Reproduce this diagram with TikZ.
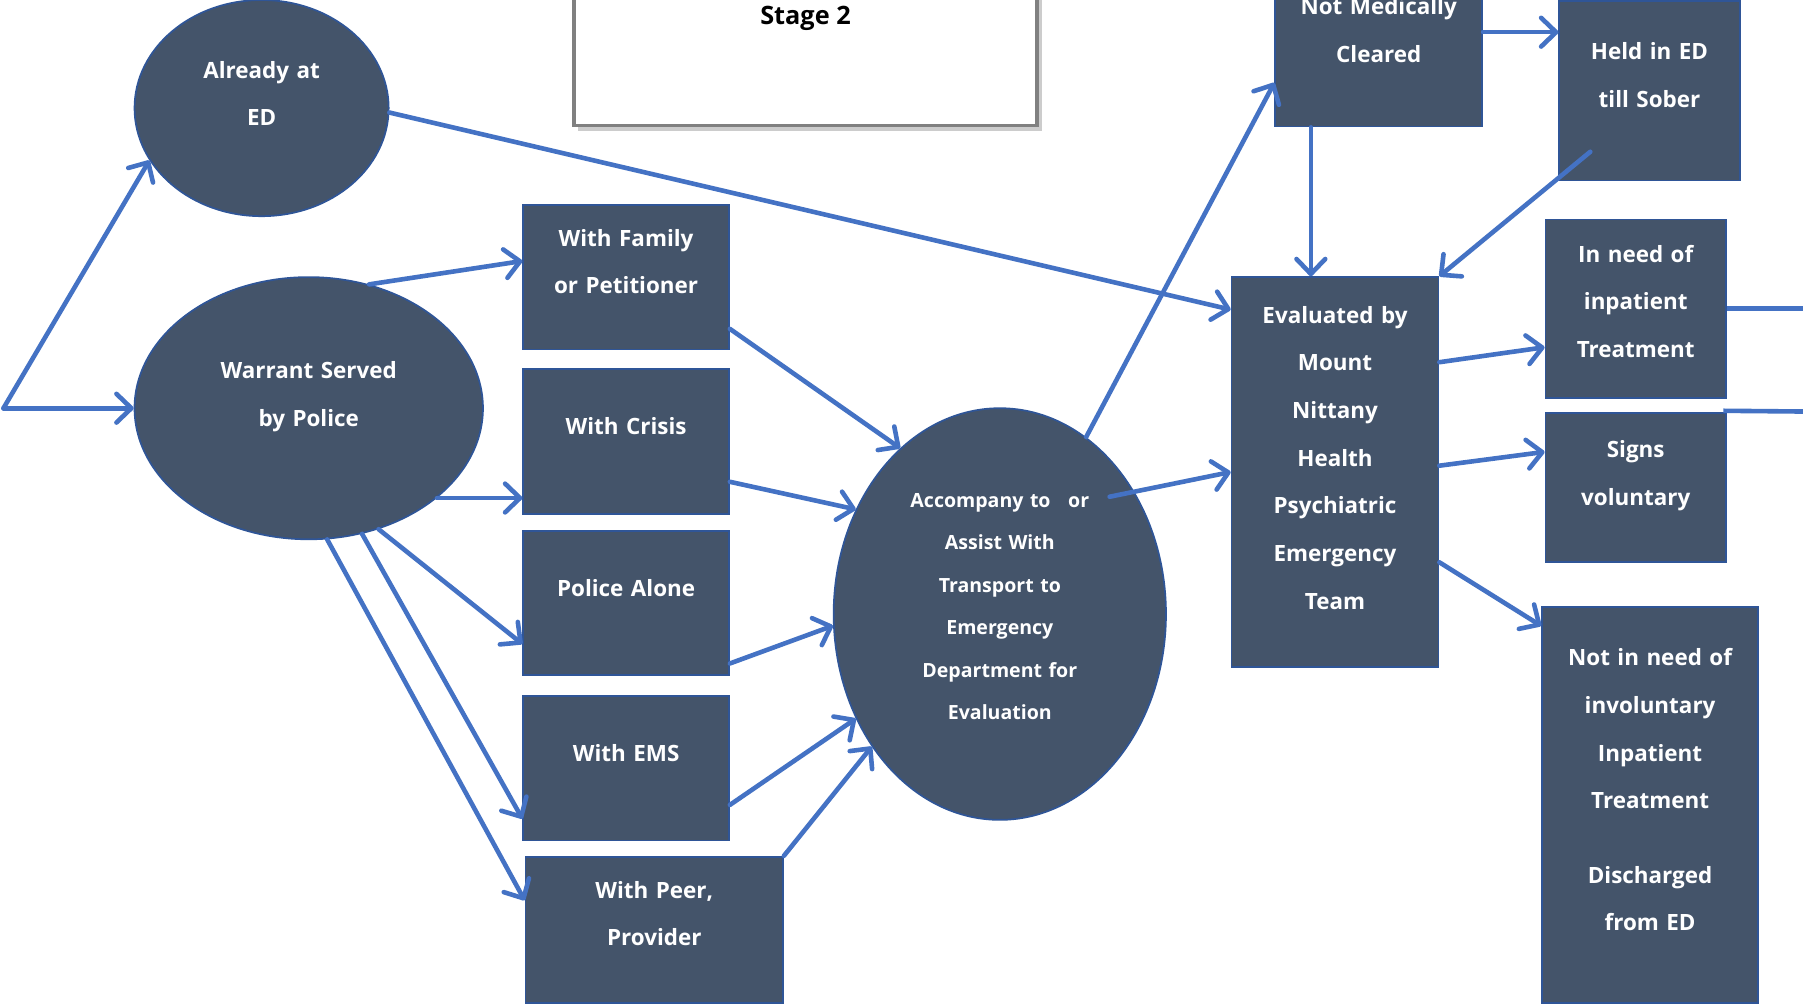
\documentclass[tikz,border=0pt]{standalone}
\usepackage{fontspec}
\setmainfont{Open Sans}
\usetikzlibrary{shapes.geometric,arrows.meta,calc,shadows}
\definecolor{boxfill}{HTML}{44546A}
\definecolor{boxline}{HTML}{2F5597}
\definecolor{arrowblue}{HTML}{4472C4}
\definecolor{stagegray}{HTML}{808080}
\begin{document}
\begin{tikzpicture}[x=1pt,y=-1pt,
  shapebox/.style={rectangle, fill=boxfill, draw=boxline, line width=1.5pt, inner sep=0pt},
  oval/.style={ellipse, fill=boxfill, draw=boxline, line width=1.5pt, inner sep=0pt},
  txt/.style={text=white, font=\fontsize{19.5}{41.5}\selectfont\bfseries, align=center, anchor=base, inner sep=0pt, text width=220pt},
  smalltxt/.style={txt, font=\fontsize{17}{37}\selectfont\bfseries},
  arr/.style={draw=arrowblue, line width=4pt, line cap=round, -{Straight Barb[length=13pt,width=25pt,line cap=round,line join=round]}},
  plain/.style={draw=arrowblue, line width=4pt},
]
\useasboundingbox (0,0) rectangle (1568,874);
\clip (0,0) rectangle (1568,874);
\fill[white] (0,0) rectangle (1568,874);

% ---- nodes ----
\node[draw=stagegray, line width=3pt, fill=white, minimum width=403pt, minimum height=130pt,
      drop shadow={shadow xshift=4pt,shadow yshift=-5pt,opacity=0.4}] (stage) at (700.5,44) {};
\node[font=\fontsize{22}{26}\selectfont\bfseries, anchor=base, inner sep=0pt] (stagetxt) at (700.5,21) {Stage 2};

\node[oval, minimum width=221pt, minimum height=188pt] (ed) at (227.5,94) {};
\node[txt] (edt) at (227.5,68) {Already at\\ED};

\node[oval, minimum width=303pt, minimum height=228pt] (war) at (268.5,355) {};
\node[txt] (wart) at (268.5,329) {Warrant Served\\by Police};

\node[shapebox, minimum width=179pt, minimum height=126pt] (fam) at (544.5,241) {};
\node[txt] (famt) at (544.5,214) {With Family\\or Petitioner};

\node[shapebox, minimum width=179pt, minimum height=126pt] (cri) at (544.5,384) {};
\node[txt] (crit) at (544.5,378) {With Crisis};

\node[shapebox, minimum width=179pt, minimum height=125pt] (pol) at (544.5,524.5) {};
\node[txt] (polt) at (544.5,519) {Police Alone};

\node[shapebox, minimum width=179pt, minimum height=126pt] (ems) at (544.5,668) {};
\node[txt] (emst) at (544.5,662) {With EMS};

\node[shapebox, minimum width=224pt, minimum height=127pt] (peer) at (569,808.5) {};
\node[txt] (peert) at (569,781) {With Peer,\\Provider};

\node[oval, minimum width=289pt, minimum height=358pt] (acc) at (869.5,534) {};
\node[smalltxt] (acct) at (869.5,441) {Accompany to\hspace{0.9em}or\\Assist With\\Transport to\\Emergency\\Department for\\Evaluation};

\node[shapebox, minimum width=180pt, minimum height=130pt] (nmc) at (1199,45) {};
\node[txt] (nmct) at (1199,13) {Not Medically\\Cleared};

\node[shapebox, minimum width=157pt, minimum height=156pt] (held) at (1434.5,79) {};
\node[txt] (heldt) at (1434.5,52) {Held in ED\\till Sober};

\node[shapebox, minimum width=180pt, minimum height=339pt] (eval) at (1161,410.5) {};
\node[txt] (evalt) at (1161,281) {Evaluated by\\Mount\\Nittany\\Health\\Psychiatric\\Emergency\\Team};

\node[shapebox, minimum width=157pt, minimum height=155pt] (inneed) at (1422.5,268.5) {};
\node[txt] (inneedt) at (1422.5,228) {In need of\\inpatient\\Treatment};

\node[shapebox, minimum width=157pt, minimum height=130pt] (signs) at (1422.5,424) {};
\node[txt] (signst) at (1422.5,398) {Signs\\voluntary};

\node[shapebox, minimum width=188pt, minimum height=344pt] (notin) at (1435,700) {};
\node[txt] (notint) at (1435,579) {Not in need of\\involuntary\\Inpatient\\Treatment\\[23pt]Discharged\\from ED};

% ---- connectors ----
\coordinate (start) at (3,355);
\draw[arr] (start) -- (ed.205);
\draw[arr] (start) -- (war.west);
\draw[arr] (ed.358) -- ([yshift=-29pt]eval.north west);
\draw[arr] (war.64) -- ([yshift=14pt]fam.west);
\draw[arr] (war.325) -- (war.325 -| cri.west);
\draw[arr] (war.300) -- ([yshift=-35.5pt]pol.west);
\draw[arr] (war.293) -- ([yshift=-44pt]ems.west);
\draw[arr] (war.278) -- ([yshift=25.5pt]peer.west);
\draw[arr] ([yshift=-45pt]fam.east) -- (acc.121);
\draw[arr] ([yshift=-35pt]cri.east) -- (acc.144);
\draw[arr] ([yshift=-52.5pt]pol.east) -- (acc.184);
\draw[arr] ([yshift=-32pt]ems.east) -- (acc.216);
\draw[arr] (peer.north east) -- (acc.226);
\draw[arr] (acc.64) -- ([yshift=-27pt]nmc.west);
\draw[arr] ($(acc.center)+(95.5,-102)$) -- (eval.west);
\draw[arr] ([yshift=17pt]nmc.east) -- ([yshift=51pt]held.west);
\draw[arr] ([xshift=-59pt]nmc.south) -- ([xshift=-21pt]eval.north);
\draw[arr] ($(held.center)+(-51.5,53)$) -- (eval.north east);
\draw[arr] ([yshift=95.5pt]eval.east) -- ([yshift=-33.5pt]inneed.west);
\draw[arr] ([yshift=5.5pt]eval.east) -- ([yshift=31pt]signs.west);
\draw[arr] ([yshift=-78.5pt]eval.east) -- ([yshift=-17pt]notin.north west);
\coordinate (offA) at (1580,268.5);
\coordinate (offB) at (1580,358);
\coordinate (offC) at (1300,-12);
\draw[plain] (inneed.east) -- (offA);
\draw[plain] ([xshift=-3pt,yshift=1pt]signs.north east) -- (offB);
\draw[plain] ([xshift=1pt,yshift=-12pt]nmc.north east) -- (offC);
\end{tikzpicture}
\end{document}
